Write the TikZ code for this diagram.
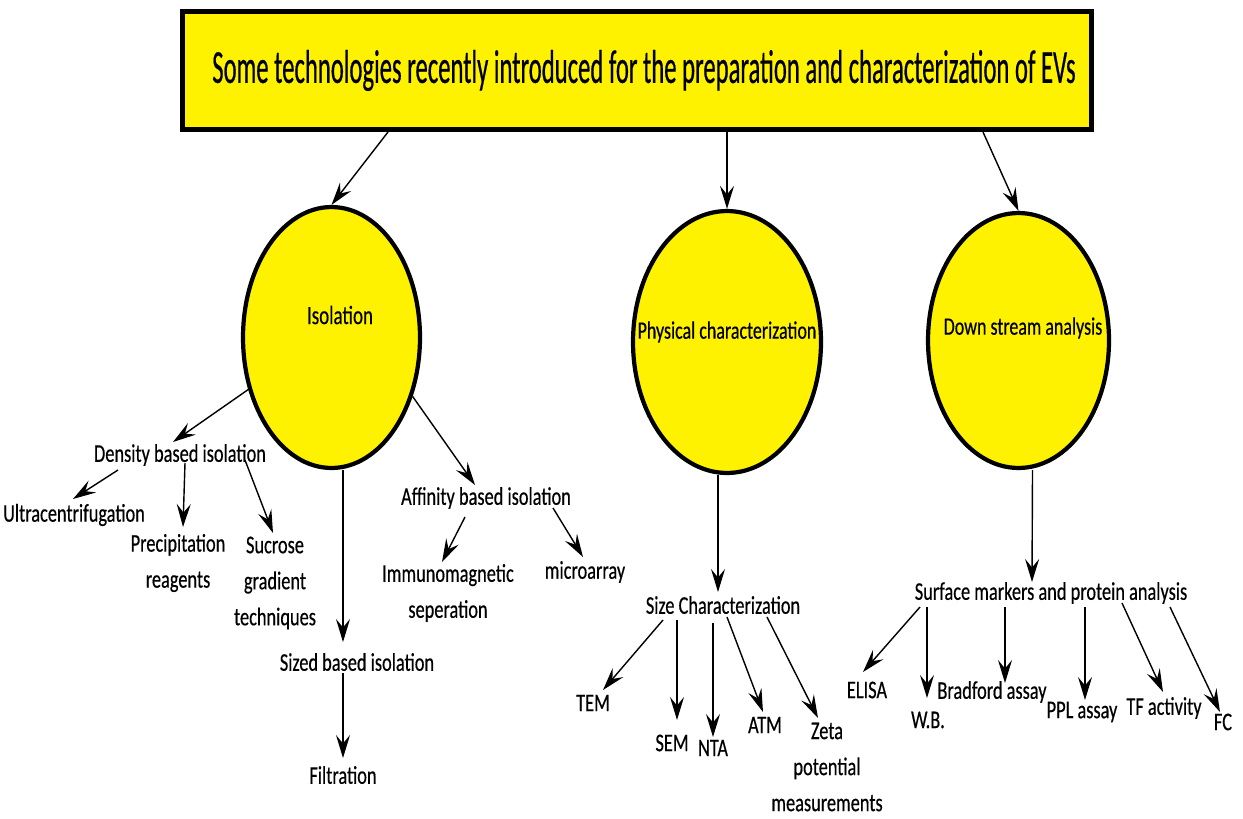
\documentclass[tikz,border=0pt]{standalone}
\usepackage{fontspec}
\setmainfont{Carlito}[FakeStretch=0.72,FakeBold=0.4]
\newfontfamily\titlefont{Carlito}[FakeStretch=0.52,FakeBold=0.4]
\usepackage{tikz}
\usetikzlibrary{arrows.meta,positioning,calc,shapes.geometric}

\begin{document}
\begin{tikzpicture}[x=0.02cm, y=-0.02cm, >={Stealth[length=4.6mm,width=2.8mm,inset=1.7mm]},
  arr/.style={->, line width=0.8pt},
  lbl/.style={font=\fontsize{14.5}{20.5}\selectfont, inner sep=1pt, align=center},
  blobtxt/.style={lbl, font=\fontsize{14.2}{16}\selectfont},
  blob/.style={ellipse, draw, line width=2.4pt, fill=yellow, inner sep=0pt},
  headbox/.style={draw, line width=2.6pt, fill=yellow, inner sep=0pt,
    font=\titlefont\fontsize{27}{30}\selectfont}]

  % Frame
  \useasboundingbox (0,0) rectangle (1243,818);
  \fill[white] (0,0) rectangle (1243,818);

  % Define nodes

  \node[headbox, minimum width=18.18cm, minimum height=2.37cm] (title) at (637,70.5)
    {\hspace*{8pt}Some technologies recently introduced for the preparation and characterization of EVs};

  \node[blob, minimum width=3.54cm, minimum height=5.22cm] (iso) at (331.5,337.5) {};
  \node[blob, minimum width=3.76cm, minimum height=5.24cm] (phys) at (727,342) {};
  \node[blob, minimum width=3.62cm, minimum height=5.1cm] (down) at (1018.5,340.5) {};
  \node[blobtxt, font=\fontsize{15}{16}\selectfont] (isotxt) at (340,315) {Isolation};
  \node[blobtxt] (phystxt) at (727,332) {Physical characterization};
  \node[blobtxt] (downtxt) at (1023,328) {Down stream analysis};

  \node[lbl] (dens) at (180,455) {Density based isolation};
  \node[lbl] (ultra) at (74,515) {Ultracentrifugation};
  \node[lbl] (precip) at (178,563) {Precipitation\\reagents};
  \node[lbl] (sucr) at (275,583) {Sucrose\\gradient\\techniques};
  \node[lbl] (sized) at (357,662) {Sized based isolation};
  \node[lbl] (filt) at (343,775) {Filtration};
  \node[lbl] (affin) at (486,498) {Affinity based isolation};
  \node[lbl] (immuno) at (448,593) {Immunomagnetic\\seperation};
  \node[lbl] (micro) at (585,572) {microarray};

  \node[lbl] (sizec) at (723,605) {Size Characterization};
  \node[lbl] (tem) at (593,703) {TEM};
  \node[lbl] (sem) at (672,743) {SEM};
  \node[lbl] (nta) at (713,748) {NTA};
  \node[lbl] (atm) at (765,725) {ATM};
  \node[lbl] (zeta) at (827,767) {Zeta\\potential\\measurements};

  \node[lbl] (surf) at (1051,593) {Surface markers and protein analysis};
  \node[lbl] (elisa) at (867,690) {ELISA};
  \node[lbl] (wb) at (928,720) {W.B.};
  \node[lbl] (brad) at (992,692) {Bradford assay};
  \node[lbl] (ppl) at (1082,712) {PPL assay};
  \node[lbl] (tf) at (1164,708) {TF activity};
  \node[lbl] (fc) at (1223,722) {FC};

  % Draw arrows
  \draw[arr] ($(title.south)+(-249,0)$) to (iso.north);
  \draw[arr] (title.south -| phys.north) to (phys.north);
  \draw[arr] ($(title.south)+(346,0)$) to (down.north);

  \draw[arr] (iso.212) to ($(dens)+(-7,-13)$);
  \draw[arr] ($(dens)+(-62,15)$) to ($(ultra)+(-1,-16)$);
  \draw[arr] ($(dens)+(5,8)$) to ($(precip)+(5,-36)$);
  \draw[arr] ($(dens)+(65,5)$) to ($(sucr)+(-2,-50)$);
  \draw[arr] (iso.south -| filt) to ($(sized)+(-14,-20)$);
  \draw[arr] ($(sized)+(-14,11)$) to ($(filt)+(0,-17)$);
  \draw[arr] (iso.-36) to ($(affin)+(-11,-13)$);
  \draw[arr] ($(affin)+(-21,19)$) to ($(immuno)+(-6,-31)$);
  \draw[arr] ($(affin)+(67,10)$) to ($(micro)+(-2,-15)$);

  \draw[arr] ($(phys.south)+(-9,0)$) to ($(sizec)+(-5,-13)$);
  \draw[arr] ($(sizec)+(-60,15)$) to ($(tem)+(10,-13)$);
  \draw[arr] ($(sizec)+(-46,15)$) to ($(sem)+(5,-23)$);
  \draw[arr] ($(sizec)+(-10,18)$) to ($(nta)+(0,-11)$);
  \draw[arr] ($(sizec)+(4,12)$) to ($(atm)+(-2,-13)$);
  \draw[arr] ($(sizec)+(44,12)$) to ($(zeta)+(-9,-49)$);

  \draw[arr] ($(down.south)+(14,0)$) to ($(surf)+(-19,-11)$);
  \draw[arr] ($(surf)+(-131,14)$) to ($(elisa)+(-4,-18)$);
  \draw[arr] ($(surf)+(-124,14)$) to ($(wb)+(-1,-22)$);
  \draw[arr] ($(surf)+(-46,14)$) to ($(brad)+(13,-9)$);
  \draw[arr] ($(surf)+(34,14)$) to ($(ppl)+(3,-12)$);
  \draw[arr] ($(surf)+(71,10)$) to ($(tf)+(-1,-16)$);
  \draw[arr] ($(surf)+(119,14)$) to ($(fc)+(-3,-10)$);
\end{tikzpicture}
\end{document}
